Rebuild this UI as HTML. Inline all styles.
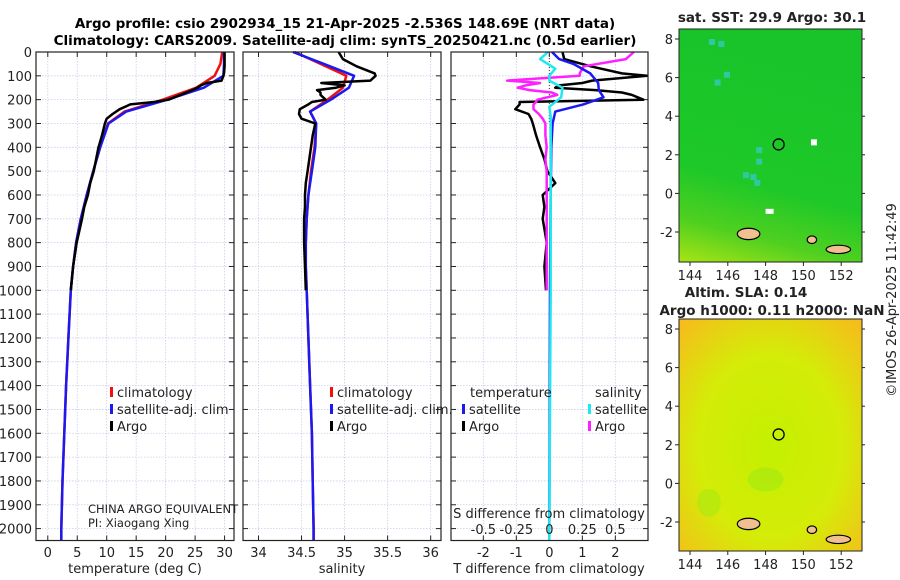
<!DOCTYPE html>
<html><head><meta charset="utf-8"><style>
body{margin:0;background:#fff;}
svg{display:block;font-family:"DejaVu Sans","Liberation Sans",sans-serif;}
</style></head><body>
<svg id="fig" width="900" height="580" viewBox="0 0 900 580">
<defs>
<linearGradient id="sstg" x1="0.2" y1="0" x2="0" y2="1">
<stop offset="0" stop-color="#18c42a"/><stop offset="0.6" stop-color="#1ec828"/><stop offset="0.82" stop-color="#50d020"/><stop offset="1" stop-color="#a8e414"/></linearGradient>
<radialGradient id="slag" cx="0.5" cy="0.55" r="0.72">
<stop offset="0" stop-color="#c4f000"/><stop offset="0.55" stop-color="#d4ec08"/><stop offset="1" stop-color="#f6bc1c"/></radialGradient>
</defs>
<text x="345" y="28" text-anchor="middle" font-weight="bold" font-size="13.5">Argo profile: csio 2902934_15 21-Apr-2025 -2.536S 148.69E (NRT data)</text>
<text x="345" y="45" text-anchor="middle" font-weight="bold" font-size="13.5">Climatology: CARS2009. Satellite-adj clim: synTS_20250421.nc (0.5d earlier)</text>
<g id="plots"></g>
<g id="maps"></g>
<text transform="translate(896,300) rotate(-90)" text-anchor="middle" font-size="13" fill="#222">©IMOS 26-Apr-2025 11:42:49</text>
</svg>
<script>
// ---- data ----
const depthTicks = [0,100,200,300,400,500,600,700,800,900,1000,1100,1200,1300,1400,1500,1600,1700,1800,1900,2000];
const tTicks = [0,5,10,15,20,25,30];
const sTicks = [34,34.5,35,35.5,36];
const sTickLabels = ["34","34.5","35","35.5","36"];
const dtTicks = [-2,-1,0,1,2];
const dsTickLabels = ["-0.5","-0.25","0","0.25","0.5"];
const dsTicks = [-0.5,-0.25,0,0.25,0.5];

const climDepth = [0,50,100,150,200,250,300,400,500,600,700,800,900,1000,1200,1400,1600,1800,2000,2050];
const climT = [29.6,29.3,28.3,25.2,19.5,13,10.2,8.9,7.7,6.6,5.6,4.8,4.3,3.9,3.5,3.1,2.8,2.5,2.3,2.3];
const satT  = [29.9,29.9,29.8,26.5,20.3,13.3,10.3,8.9,7.7,6.6,5.6,4.8,4.3,3.9,3.5,3.1,2.8,2.5,2.3,2.3];
const climS = [34.42,34.72,35.02,34.98,34.8,34.6,34.67,34.65,34.61,34.58,34.56,34.55,34.55,34.56,34.58,34.6,34.62,34.63,34.64,34.64];
const satS  = [34.40,34.76,35.11,35.05,34.84,34.6,34.67,34.66,34.62,34.58,34.56,34.55,34.55,34.56,34.58,34.6,34.62,34.63,34.64,34.64];

const argoDepth = [0,30,60,90,100,120,130,140,150,160,170,180,200,210,220,240,260,280,300,350,400,450,500,550,600,650,700,800,900,1000];
const argoT = [30,30,30,29.9,29.8,29.5,27,26,25.4,24.5,23.5,22.5,20.5,18,14,12.2,11,10,9.7,9.2,8.6,8.2,7.8,7.2,6.8,6.2,5.8,4.9,4.3,3.9];
const argoS = [34.93,34.98,35.14,35.35,35.36,35.3,34.73,35.0,34.9,34.68,34.72,34.72,34.78,34.62,34.58,34.48,34.47,34.5,34.66,34.63,34.61,34.59,34.57,34.55,34.54,34.54,34.53,34.53,34.54,34.55];
const argoDT = [0.4,0.45,1.25,2.2,2.96,1.3,1.0,0.3,0.18,1.4,2.2,2.5,2.85,-0.9,-0.9,-1.03,-0.63,-0.55,-0.5,-0.4,-0.28,-0.15,-0.06,0.18,-0.2,-0.15,-0.2,-0.08,-0.15,-0.1];
const argoDS = [0.64,0.58,0.26,0.23,0.23,-0.32,-0.07,-0.18,-0.24,-0.15,0.02,0.06,-0.09,-0.1,-0.12,-0.12,-0.08,-0.05,-0.03,-0.03,-0.02,-0.03,-0.02,-0.02,-0.02,-0.02,-0.02,-0.02,-0.02,-0.02];
const satDTDepth = [0,30,50,90,130,160,190,220,250,300,400,600,1000,2000,2050];
const satDT = [0.08,0.3,0.73,1.24,1.48,1.5,1.64,1.03,0.18,0.1,0.06,0.04,0.02,0.0,0.0];
const satDSDepth = [0,30,70,100,120,150,190,230,270,300,600,1000,2000,2050];
const satDS = [-0.01,-0.07,0.045,0.0,0.0,0.1,0.09,0.0,0.01,0.01,0.01,0.01,0.0,0.0];

const mapXTicks = [144,146,148,150,152];
const mapYTicks = [8,6,4,2,0,-2];
const argoLon = 148.69, argoLat = -2.536;
const sstTitle = "sat. SST: 29.9 Argo: 30.1";
const slaTitle1 = "Altim. SLA: 0.14";
const slaTitle2 = "Argo h1000: 0.11 h2000: NaN";

// ---- helpers ----
const NS = "http://www.w3.org/2000/svg";
function mk(tag, attrs, parent){const e=document.createElementNS(NS,tag);for(const k in attrs)e.setAttribute(k,attrs[k]);parent.appendChild(e);return e;}
const plots = document.getElementById('plots');
const maps = document.getElementById('maps');
const Y0=52, PXM=0.2383;
const yD = d => Y0 + d*PXM;
const yBottom = yD(2050);

function panel(name,left,right,xmin,xmax){
  const g = mk('g',{},plots);
  
  
  const sx = v => left + (v-xmin)/(xmax-xmin)*(right-left);
  return {g,sx,left,right};
}
function grid(p, xt){
  depthTicks.forEach(d=>{
    const l=mk('line',{x1:p.left,x2:p.right,y1:yD(d),y2:yD(d),stroke:'#c9cde8','stroke-width':0.8,'stroke-dasharray':'1.5,1.5'},p.g);
    
    
    mk('line',{x1:p.left,x2:p.left+5,y1:yD(d),y2:yD(d),stroke:'#222'},p.g);
    mk('line',{x1:p.right-5,x2:p.right,y1:yD(d),y2:yD(d),stroke:'#222'},p.g);
  });
  xt.forEach(v=>{
    const l=mk('line',{x1:p.sx(v),x2:p.sx(v),y1:Y0,y2:yBottom,stroke:'#c9cde8','stroke-width':0.8,'stroke-dasharray':'1.5,1.5'},p.g);
    
    
    mk('line',{x1:p.sx(v),x2:p.sx(v),y1:yBottom,y2:yBottom-5,stroke:'#222'},p.g);
    mk('line',{x1:p.sx(v),x2:p.sx(v),y1:Y0,y2:Y0+5,stroke:'#222'},p.g);
  });
}
function frame(p){
  const r=mk('rect',{x:p.left,y:Y0,width:p.right-p.left,height:yBottom-Y0,fill:'none',stroke:'#222','stroke-width':1.2},p.g);
  
  
}
function line(p, xs, ds, color, w, name){
  const pts = xs.map((v,i)=>p.sx(v).toFixed(1)+','+yD(ds[i]).toFixed(1)).join(' ');
  const l=mk('polyline',{points:pts,fill:'none',stroke:color,'stroke-width':w,'stroke-linejoin':'round'},p.g);
  
  
}
function text(parent,x,y,s,attrs,name){
  const t=mk('text',Object.assign({x,y,'font-size':13,fill:'#222'},attrs||{}),parent);
  t.textContent=s;
  
  
  return t;
}
function legend(g,x,y,color,label,name){
  mk('rect',{x:x,y:y-10,width:3,height:10,fill:color},g);
  text(g,x+7,y,label,{},name);
}

// ---- panel 1: temperature ----
const p1 = panel('temperature-panel',36,234,-2,31.6);
grid(p1,tTicks);
line(p1,climT,climDepth,'#f01010',2.5,'climatology-temperature-line');
line(p1,satT,climDepth,'#1a1af0',2.5,'satellite-temperature-line');
line(p1,argoT,argoDepth,'#000',2.5,'argo-temperature-line');
frame(p1);
depthTicks.forEach(d=>text(plots,32,yD(d)+5,String(d),{'text-anchor':'end'},'depth-tick-label'));
tTicks.forEach(v=>text(plots,p1.sx(v),557,String(v),{'text-anchor':'middle'},'temperature-tick-label'));
text(plots,135,573,'temperature (deg C)',{'text-anchor':'middle'},'temperature-axis-title');
legend(p1.g,110,397,'#f01010','climatology','legend-climatology');
legend(p1.g,110,414,'#1a1af0','satellite-adj. clim','legend-satellite');
legend(p1.g,110,431,'#000','Argo','legend-argo');
text(p1.g,88,513,'CHINA ARGO EQUIVALENT',{'font-size':11.5},'data-centre-label');
text(p1.g,88,527,'PI: Xiaogang Xing',{'font-size':11.5},'pi-label');

// ---- panel 2: salinity ----
const p2 = panel('salinity-panel',243,441,33.82,36.12);
grid(p2,sTicks);
line(p2,climS,climDepth,'#f01010',2.5,'climatology-salinity-line');
line(p2,satS,climDepth,'#1a1af0',2.5,'satellite-salinity-line');
line(p2,argoS,argoDepth,'#000',2.5,'argo-salinity-line');
frame(p2);
sTicks.forEach((v,i)=>text(plots,p2.sx(v),557,sTickLabels[i],{'text-anchor':'middle'},'salinity-tick-label'));
text(plots,342,573,'salinity',{'text-anchor':'middle'},'salinity-axis-title');
legend(p2.g,330,397,'#f01010','climatology','legend-climatology');
legend(p2.g,330,414,'#1a1af0','satellite-adj. clim.','legend-satellite');
legend(p2.g,330,431,'#000','Argo','legend-argo');

// ---- panel 3: differences ----
const p3 = panel('difference-panel',451,648,-2.98,2.99);
const sxS = v => p3.sx(v*4);
grid(p3,dtTicks);
mk('line',{x1:p3.sx(0),x2:p3.sx(0),y1:Y0,y2:yD(300),stroke:'#333','stroke-dasharray':'1,2'},p3.g);
line(p3,argoDT,argoDepth,'#000',2.5,'argo-temperature-diff-line');
line(p3,argoDS.map(v=>v*4),argoDepth,'#ff20ff',2.5,'argo-salinity-diff-line');
line(p3,satDT,satDTDepth,'#1a1af0',2.5,'satellite-temperature-diff-line');
line(p3,satDS.map(v=>v*4),satDSDepth,'#20e8f0',2.5,'satellite-salinity-diff-line');
frame(p3);
dtTicks.forEach(v=>text(plots,p3.sx(v),557,String(v),{'text-anchor':'middle'},'t-diff-tick-label'));
text(plots,549,573,'T difference from climatology',{'text-anchor':'middle'},'t-diff-axis-title');
dsTicks.forEach((v,i)=>text(p3.g,sxS(v),534,dsTickLabels[i],{'text-anchor':'middle'},'s-diff-tick-label'));
text(p3.g,549,518,'S difference from climatology',{'text-anchor':'middle'},'s-diff-axis-title');
text(p3.g,470,397,'temperature',{},'legend-temperature-heading');
legend(p3.g,462,414,'#1a1af0','satellite','legend-temperature-satellite');
legend(p3.g,462,431,'#000','Argo','legend-temperature-argo');
text(p3.g,595,397,'salinity',{},'legend-salinity-heading');
legend(p3.g,588,414,'#20e8f0','satellite','legend-salinity-satellite');
legend(p3.g,588,431,'#ff20ff','Argo','legend-salinity-argo');

// ---- maps ----
function mapPanel(name,top,bottom,fill){
  const left=679,right=862;
  const g=mk('g',{},maps);
  
  
  const sx=v=>690+(v-144)*18.9;
  const sy=v=>top+10+(8-v)*19.3;
  mk('rect',{x:left,y:top,width:right-left,height:bottom-top,fill:fill},g);
  return {g,sx,sy,left,right,top,bottom};
}
function mapDecor(m){
  const isl=[[146.5,-2.1,1.2,0.3],[150.2,-2.4,0.5,0.2],[151.2,-2.9,1.3,0.22]];
  isl.forEach(a=>{
    const e=mk('ellipse',{cx:m.sx(a[0]+a[2]/2),cy:m.sy(a[1]),rx:a[2]*9.4,ry:a[3]*19,fill:'#f0c090',stroke:'#000','stroke-width':1.2},m.g);
    
    
  });
  const c=mk('circle',{cx:m.sx(argoLon),cy:m.sy(-argoLat),r:5.5,fill:'none',stroke:'#000','stroke-width':1.3},m.g);
  
  
  mk('rect',{x:m.left,y:m.top,width:m.right-m.left,height:m.bottom-m.top,fill:'none',stroke:'#222'},m.g);
  mapXTicks.forEach(v=>{
    mk('line',{x1:m.sx(v),x2:m.sx(v),y1:m.bottom,y2:m.bottom+4,stroke:'#222'},m.g);
    text(m.g,m.sx(v),m.bottom+18,String(v),{'text-anchor':'middle'},'lon-tick-label');
  });
  mapYTicks.forEach(v=>{
    mk('line',{x1:m.left-4,x2:m.left,y1:m.sy(v),y2:m.sy(v),stroke:'#222'},m.g);
    mk('line',{x1:m.right,x2:m.right+3,y1:m.sy(v),y2:m.sy(v),stroke:'#222'},m.g);
    text(m.g,m.left-6,m.sy(v)+5,String(v),{'text-anchor':'end'},'lat-tick-label');
  });
}
const m1=mapPanel('sst-map',29,262,'url(#sstg)');
const cyan=[[145,8],[145.5,7.9],[145.8,6.3],[145.3,5.9],[147.5,2.4],[147.5,1.8],[147.2,1.0],[147.4,0.7],[146.8,1.1]];
cyan.forEach(c=>{const r=mk('rect',{x:m1.sx(c[0]),y:m1.sy(c[1]),width:6,height:6,fill:'#30c8a0'},m1.g);
});
mk('rect',{x:m1.sx(150.4),y:m1.sy(2.8),width:6,height:6,fill:'#fff'},m1.g);
mk('rect',{x:m1.sx(148),y:m1.sy(-0.8),width:8,height:5,fill:'#fff'},m1.g);
mapDecor(m1);
text(maps,772,22,sstTitle,{'text-anchor':'middle','font-weight':'bold','font-size':13.5},'sst-map-title');
const m2=mapPanel('sla-map',319,551,'url(#slag)');
mk('ellipse',{cx:m2.sx(148),cy:m2.sy(0.2),rx:18,ry:12,fill:'#a8ea10',opacity:0.7},m2.g);
mk('ellipse',{cx:m2.sx(145),cy:m2.sy(-1),rx:12,ry:14,fill:'#a8ea10',opacity:0.6},m2.g);
mapDecor(m2);
text(maps,746,297,slaTitle1,{'text-anchor':'middle','font-weight':'bold','font-size':13.5},'sla-map-title');
text(maps,772,315,slaTitle2,{'text-anchor':'middle','font-weight':'bold','font-size':13.5},'sla-map-subtitle');
</script>
</body></html>
